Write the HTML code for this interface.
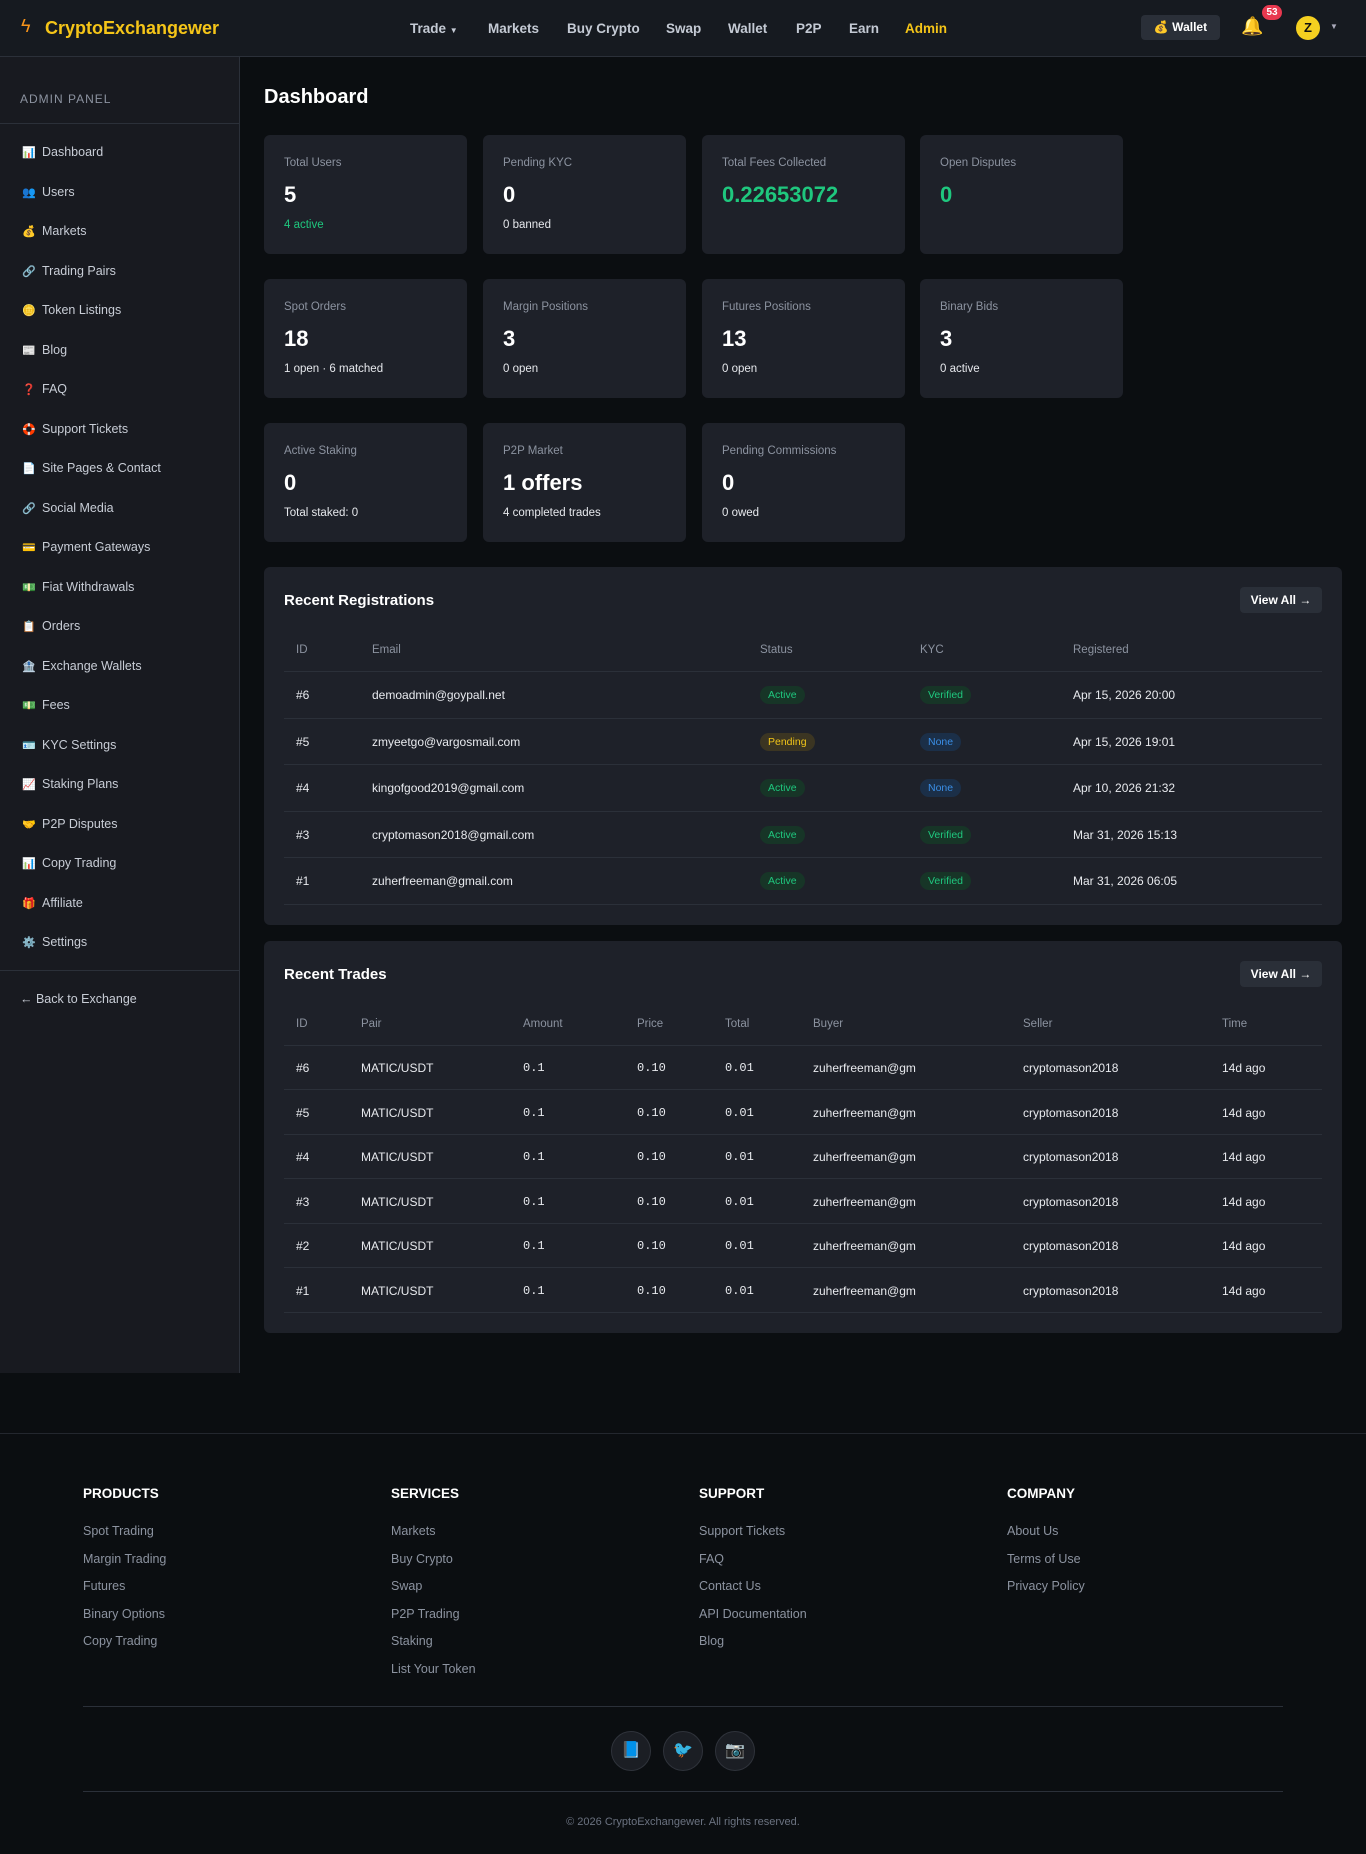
<!DOCTYPE html>
<html><head><meta charset="utf-8"><style>
*{box-sizing:border-box;margin:0;padding:0}
body{width:1366px;height:1854px;background:#0b0e11;font-family:"Liberation Sans","DejaVu Sans",sans-serif;color:#e6e8ec;position:relative;overflow:hidden;font-size:13px}
.a{position:absolute;white-space:nowrap}
.hdr{position:absolute;left:0;top:0;width:1366px;height:57px;background:#161a20;border-bottom:1px solid #2b3039}
.nav{color:#c4cad4;font-size:13.5px;font-weight:bold;top:21px}
.side{position:absolute;left:0;top:57px;width:240px;height:1316px;background:#181a20;border-right:1px solid #2b3039}
.si{left:22px;color:#c8cdd6;font-size:12.5px}
.si i{font-style:normal;display:inline-block;width:20px;font-size:11px}
.card{position:absolute;width:203px;height:119px;background:#1e2129;border-radius:6px}
.card .l{position:absolute;left:20px;top:22px;color:#8c93a0;font-size:11.5px}
.card .v{position:absolute;left:20px;top:47px;color:#fff;font-size:22px;font-weight:bold}
.card .s{position:absolute;left:20px;top:84px;color:#e6e8ec;font-size:11.5px}
.panel{position:absolute;left:264px;width:1078px;background:#1e2129;border-radius:6px}
.pt{left:20px;font-size:15px;font-weight:bold;color:#fff}
.va{position:absolute;right:20px;width:82px;height:26px;background:#2a2f38;border-radius:4px;color:#fff;font-size:12px;font-weight:bold;text-align:center;line-height:26px}
.th{color:#8c93a0;font-size:11.5px}
.ln{position:absolute;left:20px;width:1038px;height:1px;background:#2b3039}
.td{color:#e8eaee;font-size:12px}
.mono{font-family:"Liberation Mono",monospace;font-size:12px}
.b{display:inline-block;padding:3px 8px;border-radius:9px;font-size:10.5px}
.g{background:#173527;color:#1fc77e}.y{background:#3b3522;color:#f0c419}.bl{background:#1b2f48;color:#3a8ee6}
.fh{color:#fff;font-weight:bold;font-size:13.5px}
.fl{color:#8c93a0;font-size:12.5px}
.soc{position:absolute;width:40px;height:40px;border-radius:50%;background:#1b1e24;border:1px solid #2f333b;text-align:center;line-height:38px;font-size:16px}
</style></head><body>
<div class="hdr"></div>
<div class="a" style="left:21px;top:16px;color:#f7931a;font-size:18px">ϟ</div>
<div class="a" style="left:45px;top:18px;color:#f5c518;font-size:18px;font-weight:bold">CryptoExchangewer</div>
<div class="a nav" style="left:410px">Trade <span style="font-size:8px">▼</span></div>
<div class="a nav" style="left:488px">Markets</div>
<div class="a nav" style="left:567px">Buy Crypto</div>
<div class="a nav" style="left:666px">Swap</div>
<div class="a nav" style="left:728px">Wallet</div>
<div class="a nav" style="left:796px">P2P</div>
<div class="a nav" style="left:849px">Earn</div>
<div class="a nav" style="left:905px;color:#f5c518">Admin</div>
<div class="a" style="left:1141px;top:15px;width:79px;height:25px;background:#2a2f38;border-radius:4px;color:#fff;font-size:12px;font-weight:bold;line-height:25px;text-align:center">💰 Wallet</div>
<div class="a" style="left:1241px;top:16px;font-size:18px;color:#f5b014">🔔</div>
<div class="a" style="left:1262px;top:5px;width:20px;height:15px;border-radius:8px;background:#e8384f;color:#fff;font-size:10px;font-weight:bold;text-align:center;line-height:15px">53</div>
<div class="a" style="left:1296px;top:16px;width:24px;height:24px;border-radius:50%;background:#f5d020;color:#111;font-weight:bold;font-size:13px;text-align:center;line-height:24px">Z</div>
<div class="a" style="left:1330px;top:22px;color:#aab;font-size:8px">▼</div>

<div class="side"></div>
<div class="a" style="left:20px;top:92px;color:#8c93a0;font-size:12px;letter-spacing:1px">ADMIN PANEL</div>
<div class="a" style="left:0;top:123px;width:240px;height:1px;background:#2b3039"></div>
<div class="a si" style="top:145px"><i>📊</i>Dashboard</div>
<div class="a si" style="top:185px"><i>👥</i>Users</div>
<div class="a si" style="top:224px"><i>💰</i>Markets</div>
<div class="a si" style="top:264px"><i>🔗</i>Trading Pairs</div>
<div class="a si" style="top:303px"><i>🪙</i>Token Listings</div>
<div class="a si" style="top:343px"><i>📰</i>Blog</div>
<div class="a si" style="top:382px"><i style="color:#e8384f">❓</i>FAQ</div>
<div class="a si" style="top:422px"><i>🛟</i>Support Tickets</div>
<div class="a si" style="top:461px"><i>📄</i>Site Pages &amp; Contact</div>
<div class="a si" style="top:501px"><i>🔗</i>Social Media</div>
<div class="a si" style="top:540px"><i>💳</i>Payment Gateways</div>
<div class="a si" style="top:580px"><i>💵</i>Fiat Withdrawals</div>
<div class="a si" style="top:619px"><i>📋</i>Orders</div>
<div class="a si" style="top:659px"><i>🏦</i>Exchange Wallets</div>
<div class="a si" style="top:698px"><i>💵</i>Fees</div>
<div class="a si" style="top:738px"><i>🪪</i>KYC Settings</div>
<div class="a si" style="top:777px"><i>📈</i>Staking Plans</div>
<div class="a si" style="top:817px"><i>🤝</i>P2P Disputes</div>
<div class="a si" style="top:856px"><i>📊</i>Copy Trading</div>
<div class="a si" style="top:896px"><i>🎁</i>Affiliate</div>
<div class="a si" style="top:935px"><i>⚙️</i>Settings</div>
<div class="a" style="left:0;top:970px;width:240px;height:1px;background:#2b3039"></div>
<div class="a si" style="left:20px;top:992px">← Back to Exchange</div>

<div class="a" style="left:264px;top:86px;font-size:20px;font-weight:bold;color:#fff">Dashboard</div>

<div class="card" style="left:264px;top:135px"><div class="l">Total Users</div><div class="v">5</div><div class="s" style="color:#1fc77e">4 active</div></div>
<div class="card" style="left:483px;top:135px"><div class="l">Pending KYC</div><div class="v">0</div><div class="s">0 banned</div></div>
<div class="card" style="left:702px;top:135px"><div class="l">Total Fees Collected</div><div class="v" style="color:#1fc77e">0.22653072</div></div>
<div class="card" style="left:920px;top:135px"><div class="l">Open Disputes</div><div class="v" style="color:#1fc77e">0</div></div>
<div class="card" style="left:264px;top:279px"><div class="l">Spot Orders</div><div class="v">18</div><div class="s">1 open · 6 matched</div></div>
<div class="card" style="left:483px;top:279px"><div class="l">Margin Positions</div><div class="v">3</div><div class="s">0 open</div></div>
<div class="card" style="left:702px;top:279px"><div class="l">Futures Positions</div><div class="v">13</div><div class="s">0 open</div></div>
<div class="card" style="left:920px;top:279px"><div class="l">Binary Bids</div><div class="v">3</div><div class="s">0 active</div></div>
<div class="card" style="left:264px;top:423px"><div class="l">Active Staking</div><div class="v">0</div><div class="s">Total staked: 0</div></div>
<div class="card" style="left:483px;top:423px"><div class="l">P2P Market</div><div class="v">1 offers</div><div class="s">4 completed trades</div></div>
<div class="card" style="left:702px;top:423px"><div class="l">Pending Commissions</div><div class="v">0</div><div class="s">0 owed</div></div>

<div class="panel" style="top:567px;height:358px">
<div class="a pt" style="top:25px">Recent Registrations</div>
<div class="va" style="top:20px">View All →</div>
<div class="a th" style="left:32px;top:77px">ID</div><div class="a th" style="left:108px;top:77px">Email</div><div class="a th" style="left:496px;top:77px">Status</div><div class="a th" style="left:656px;top:77px">KYC</div><div class="a th" style="left:809px;top:77px">Registered</div>
<div class="ln" style="top:104px"></div>
<div class="a td" style="left:32px;top:121px">#6</div><div class="a td" style="left:108px;top:121px">demoadmin@goypall.net</div><div class="a" style="left:496px;top:119px"><span class="b g">Active</span></div><div class="a" style="left:656px;top:119px"><span class="b g">Verified</span></div><div class="a td" style="left:809px;top:121px">Apr 15, 2026 20:00</div>
<div class="ln" style="top:151px"></div>
<div class="a td" style="left:32px;top:168px">#5</div><div class="a td" style="left:108px;top:168px">zmyeetgo@vargosmail.com</div><div class="a" style="left:496px;top:166px"><span class="b y">Pending</span></div><div class="a" style="left:656px;top:166px"><span class="b bl">None</span></div><div class="a td" style="left:809px;top:168px">Apr 15, 2026 19:01</div>
<div class="ln" style="top:197px"></div>
<div class="a td" style="left:32px;top:214px">#4</div><div class="a td" style="left:108px;top:214px">kingofgood2019@gmail.com</div><div class="a" style="left:496px;top:212px"><span class="b g">Active</span></div><div class="a" style="left:656px;top:212px"><span class="b bl">None</span></div><div class="a td" style="left:809px;top:214px">Apr 10, 2026 21:32</div>
<div class="ln" style="top:244px"></div>
<div class="a td" style="left:32px;top:261px">#3</div><div class="a td" style="left:108px;top:261px">cryptomason2018@gmail.com</div><div class="a" style="left:496px;top:259px"><span class="b g">Active</span></div><div class="a" style="left:656px;top:259px"><span class="b g">Verified</span></div><div class="a td" style="left:809px;top:261px">Mar 31, 2026 15:13</div>
<div class="ln" style="top:290px"></div>
<div class="a td" style="left:32px;top:307px">#1</div><div class="a td" style="left:108px;top:307px">zuherfreeman@gmail.com</div><div class="a" style="left:496px;top:305px"><span class="b g">Active</span></div><div class="a" style="left:656px;top:305px"><span class="b g">Verified</span></div><div class="a td" style="left:809px;top:307px">Mar 31, 2026 06:05</div>
<div class="ln" style="top:337px"></div>
</div>

<div class="panel" style="top:941px;height:392px">
<div class="a pt" style="top:25px">Recent Trades</div>
<div class="va" style="top:20px">View All →</div>
<div class="a th" style="left:32px;top:77px">ID</div><div class="a th" style="left:97px;top:77px">Pair</div><div class="a th" style="left:259px;top:77px">Amount</div><div class="a th" style="left:373px;top:77px">Price</div><div class="a th" style="left:461px;top:77px">Total</div><div class="a th" style="left:549px;top:77px">Buyer</div><div class="a th" style="left:759px;top:77px">Seller</div><div class="a th" style="left:958px;top:77px">Time</div>
<div class="ln" style="top:104px"></div>
<div class="a td" style="left:32px;top:120px">#6</div><div class="a td" style="left:97px;top:120px">MATIC/USDT</div><div class="a td mono" style="left:259px;top:120px">0.1</div><div class="a td mono" style="left:373px;top:120px">0.10</div><div class="a td mono" style="left:461px;top:120px">0.01</div><div class="a td" style="left:549px;top:120px">zuherfreeman@gm</div><div class="a td" style="left:759px;top:120px">cryptomason2018</div><div class="a td" style="left:958px;top:120px">14d ago</div>
<div class="ln" style="top:148px"></div>
<div class="a td" style="left:32px;top:165px">#5</div><div class="a td" style="left:97px;top:165px">MATIC/USDT</div><div class="a td mono" style="left:259px;top:165px">0.1</div><div class="a td mono" style="left:373px;top:165px">0.10</div><div class="a td mono" style="left:461px;top:165px">0.01</div><div class="a td" style="left:549px;top:165px">zuherfreeman@gm</div><div class="a td" style="left:759px;top:165px">cryptomason2018</div><div class="a td" style="left:958px;top:165px">14d ago</div>
<div class="ln" style="top:193px"></div>
<div class="a td" style="left:32px;top:209px">#4</div><div class="a td" style="left:97px;top:209px">MATIC/USDT</div><div class="a td mono" style="left:259px;top:209px">0.1</div><div class="a td mono" style="left:373px;top:209px">0.10</div><div class="a td mono" style="left:461px;top:209px">0.01</div><div class="a td" style="left:549px;top:209px">zuherfreeman@gm</div><div class="a td" style="left:759px;top:209px">cryptomason2018</div><div class="a td" style="left:958px;top:209px">14d ago</div>
<div class="ln" style="top:237px"></div>
<div class="a td" style="left:32px;top:254px">#3</div><div class="a td" style="left:97px;top:254px">MATIC/USDT</div><div class="a td mono" style="left:259px;top:254px">0.1</div><div class="a td mono" style="left:373px;top:254px">0.10</div><div class="a td mono" style="left:461px;top:254px">0.01</div><div class="a td" style="left:549px;top:254px">zuherfreeman@gm</div><div class="a td" style="left:759px;top:254px">cryptomason2018</div><div class="a td" style="left:958px;top:254px">14d ago</div>
<div class="ln" style="top:282px"></div>
<div class="a td" style="left:32px;top:298px">#2</div><div class="a td" style="left:97px;top:298px">MATIC/USDT</div><div class="a td mono" style="left:259px;top:298px">0.1</div><div class="a td mono" style="left:373px;top:298px">0.10</div><div class="a td mono" style="left:461px;top:298px">0.01</div><div class="a td" style="left:549px;top:298px">zuherfreeman@gm</div><div class="a td" style="left:759px;top:298px">cryptomason2018</div><div class="a td" style="left:958px;top:298px">14d ago</div>
<div class="ln" style="top:326px"></div>
<div class="a td" style="left:32px;top:343px">#1</div><div class="a td" style="left:97px;top:343px">MATIC/USDT</div><div class="a td mono" style="left:259px;top:343px">0.1</div><div class="a td mono" style="left:373px;top:343px">0.10</div><div class="a td mono" style="left:461px;top:343px">0.01</div><div class="a td" style="left:549px;top:343px">zuherfreeman@gm</div><div class="a td" style="left:759px;top:343px">cryptomason2018</div><div class="a td" style="left:958px;top:343px">14d ago</div>
<div class="ln" style="top:371px"></div>
</div>

<div class="a" style="left:0;top:1433px;width:1366px;height:1px;background:#23272e"></div>
<div class="a fh" style="left:83px;top:1486px">PRODUCTS</div>
<div class="a fh" style="left:391px;top:1486px">SERVICES</div>
<div class="a fh" style="left:699px;top:1486px">SUPPORT</div>
<div class="a fh" style="left:1007px;top:1486px">COMPANY</div>
<div class="a fl" style="left:83px;top:1518px;line-height:27.5px;white-space:normal">Spot Trading<br>Margin Trading<br>Futures<br>Binary Options<br>Copy Trading</div>
<div class="a fl" style="left:391px;top:1518px;line-height:27.5px;white-space:normal">Markets<br>Buy Crypto<br>Swap<br>P2P Trading<br>Staking<br>List Your Token</div>
<div class="a fl" style="left:699px;top:1518px;line-height:27.5px;white-space:normal">Support Tickets<br>FAQ<br>Contact Us<br>API Documentation<br>Blog</div>
<div class="a fl" style="left:1007px;top:1518px;line-height:27.5px;white-space:normal">About Us<br>Terms of Use<br>Privacy Policy</div>
<div class="a" style="left:83px;top:1706px;width:1200px;height:1px;background:#2b3039"></div>
<div class="soc" style="left:611px;top:1731px">📘</div>
<div class="soc" style="left:663px;top:1731px">🐦</div>
<div class="soc" style="left:715px;top:1731px">📷</div>
<div class="a" style="left:83px;top:1791px;width:1200px;height:1px;background:#2b3039"></div>
<div class="a" style="left:0;width:1366px;text-align:center;top:1816px;color:#6b7280;font-size:11px">© 2026 CryptoExchangewer. All rights reserved.</div>
</body></html>
